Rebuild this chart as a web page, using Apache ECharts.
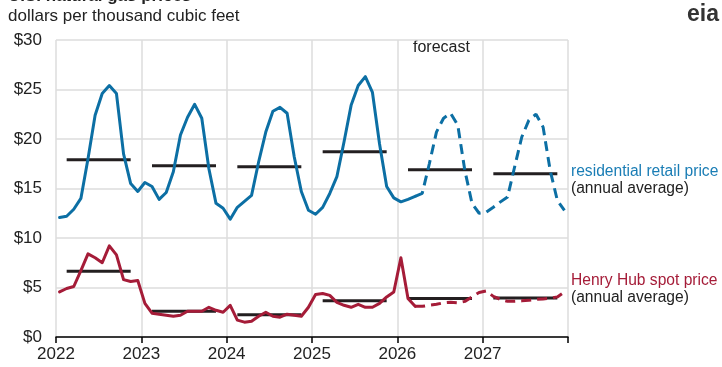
<!DOCTYPE html>
<html>
<head>
<meta charset="utf-8">
<script src="https://cdn.jsdelivr.net/npm/echarts@6/dist/echarts.min.js"></script>
<style>
html,body{margin:0;padding:0;background:#fff;}
#chart{width:722px;height:367px;}
</style>
</head>
<body>
<div id="chart"></div>
<script>
// ---- data ----
var years = [2022, 2023, 2024, 2025, 2026, 2027];
var xTickLabels = ['2022', '2023', '2024', '2025', '2026', '2027'];
var yTickLabels = ['$0', '$5', '$10', '$15', '$20', '$25', '$30'];
// monthly residential retail price, Jan 2022 - Dec 2027
var residential = [
  12.07, 12.2, 12.9, 14.0, 18.0, 22.4, 24.6, 25.4, 24.6, 18.5, 15.5, 14.7,
  15.6, 15.2, 13.9, 14.6, 16.7, 20.4, 22.2, 23.5, 22.1, 17.0, 13.5, 13.0,
  11.9, 13.1, 13.7, 14.3, 17.7, 20.7, 22.8, 23.2, 22.6, 18.2, 14.7, 12.8,
  12.4, 13.1, 14.5, 16.2, 19.7, 23.4, 25.4, 26.3, 24.7, 19.5, 15.2, 14.05,
  13.65, 13.9, 14.2, 14.5, 17.5, 20.7, 22.1, 22.6, 21.4, 16.8, 13.5, 12.5,
  12.6, 13.1, 13.65, 14.15, 17.2, 20.2, 21.9, 22.5, 21.2, 16.8, 13.8, 12.8
];
// monthly Henry Hub spot price, Jan 2022 - Dec 2027
var henryHub = [
  4.55, 4.9, 5.1, 6.7, 8.4, 8.0, 7.5, 9.2, 8.3, 5.8, 5.6, 5.7,
  3.4, 2.4, 2.3, 2.2, 2.1, 2.2, 2.6, 2.6, 2.6, 3.0, 2.7, 2.5,
  3.2, 1.7, 1.5, 1.6, 2.1, 2.5, 2.1, 2.0, 2.3, 2.2, 2.1, 3.0,
  4.3, 4.4, 4.2, 3.5, 3.2, 3.0, 3.3, 3.0, 3.0, 3.4, 4.05, 4.55,
  8.0, 3.9, 3.1, 3.1, 3.2, 3.3, 3.45, 3.5, 3.45, 3.6, 4.05, 4.5,
  4.65, 4.1, 3.8, 3.6, 3.6, 3.65, 3.7, 3.8, 3.85, 3.9, 4.05, 4.55
];
var residentialAnnual = [17.9, 17.3, 17.2, 18.7, 16.9, 16.5];
var henryHubAnnual = [6.65, 2.6, 2.25, 3.65, 3.9, 3.95];
var forecastStartIndex = 50; // Mar 2026

// ---- build ----
function monthX(i) { return 2022 + (i + 0.5) / 12; }
function pts(arr, from, to) {
  var out = [];
  for (var i = from; i <= to; i++) out.push([monthX(i), arr[i]]);
  return out;
}
var BLUE = '#0c6fa4', RED = '#a51c38', BLACK = '#231f20';
var series = [];
years.forEach(function (y, k) {
  [residentialAnnual, henryHubAnnual].forEach(function (a) {
    series.push({
      type: 'line', symbol: 'none', silent: true, z: 2,
      lineStyle: { color: BLACK, width: 3 },
      data: [[y + 1.5 / 12, a[k]], [y + 10.5 / 12, a[k]]]
    });
  });
});
function addSeries(arr, color) {
  series.push({ type: 'line', symbol: 'none', z: 3, lineStyle: { color: color, width: 3, cap: 'round', join: 'round' },
    data: pts(arr, 0, forecastStartIndex) });
  series.push({ type: 'line', symbol: 'none', z: 3, lineStyle: { color: color, width: 3, type: [10, 6] },
    data: pts(arr, forecastStartIndex, arr.length - 1) });
}
addSeries(residential, BLUE);
addSeries(henryHub, RED);

var FONT = 'Liberation Sans, Arial, sans-serif';
var chart = echarts.init(document.getElementById('chart'), null, { renderer: 'canvas' });
chart.setOption({
  animation: false,
  backgroundColor: '#fff',
  grid: { left: 56, right: 154, top: 40, bottom: 30, containLabel: false },
  xAxis: {
    type: 'value', min: 2022, max: 2028, interval: 1,
    axisLine: { show: true, lineStyle: { color: '#000', width: 1.5 } },
    axisTick: { show: true, length: 6, lineStyle: { color: '#000', width: 1.5 } },
    axisLabel: { fontSize: 17, fontFamily: FONT, color: '#222', margin: 9,
      formatter: function (v) { var i = Math.round(v - 2022); return xTickLabels[i] || ''; } },
    splitLine: { show: true, lineStyle: { color: '#dcdcdc', width: 1.5 } }
  },
  yAxis: {
    type: 'value', min: 0, max: 30, interval: 5,
    axisLine: { show: false }, axisTick: { show: false },
    axisLabel: { fontSize: 17, fontFamily: FONT, color: '#222', margin: 14,
      formatter: function (v) { return yTickLabels[Math.round(v / 5)]; } },
    splitLine: { show: true, lineStyle: { color: '#dcdcdc', width: 1.5 } }
  },
  graphic: [
    { type: 'text', left: 8, top: -12, style: { text: 'U.S. natural gas prices', font: 'bold 17px ' + FONT, fill: '#222' } },
    { type: 'text', left: 8, top: 8, style: { text: 'dollars per thousand cubic feet', font: '17px ' + FONT, fill: '#222' } },
    { type: 'text', left: 687, top: 3, style: { text: 'eia', font: 'bold 23px ' + FONT, fill: '#333' } },
    { type: 'text', left: 413, top: 40, style: { text: 'forecast', font: '16px ' + FONT, fill: '#222' } },
    { type: 'text', left: 571, top: 164, style: { text: 'residential retail price', font: '15.6px ' + FONT, fill: '#1a7db5' } },
    { type: 'text', left: 571, top: 181, style: { text: '(annual average)', font: '15.6px ' + FONT, fill: '#222' } },
    { type: 'text', left: 571, top: 273, style: { text: 'Henry Hub spot price', font: '15.6px ' + FONT, fill: '#a51c38' } },
    { type: 'text', left: 571, top: 290, style: { text: '(annual average)', font: '15.6px ' + FONT, fill: '#222' } }
  ],
  series: series
});
</script>
</body>
</html>
